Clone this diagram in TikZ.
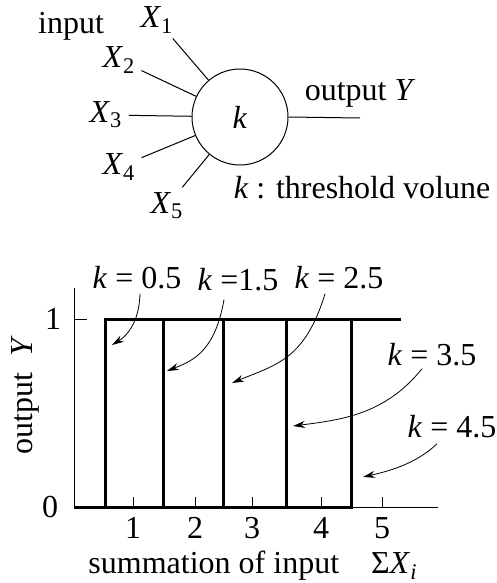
\documentclass[tikz,border=0pt]{standalone}
\usepackage{fontspec}
\setmainfont{Liberation Serif}
\usetikzlibrary{arrows.meta,positioning}
\tikzset{
  lbl/.style={font=\fontsize{16}{19}\selectfont,inner sep=1pt},
  neuron/.style={circle,draw,line width=0.5pt,minimum size=48pt,
                 inner sep=0pt,font=\fontsize{16}{19}\selectfont},
  wire/.style={line width=0.5pt},
  axis/.style={line width=0.5pt},
  stepline/.style={line width=1.5pt,line join=miter},
  pointer/.style={-{Stealth[length=6pt,width=3.5pt]},line width=0.4pt},
}

\begin{document}
\begin{tikzpicture}[x=0.5pt,y=-0.5pt]
\useasboundingbox (0,0) rectangle (497,583);

% threshold unit
\node[neuron] (k) at (240,117) {\textit{k}};
\node[lbl] (in) at (71,26) {input};
\foreach \n/\px/\py in {1/157/20,2/119/60,3/106/115,4/119/167,5/167/206}{
  \node[lbl] (x\n) at (\px,\py) {\textit{X}\textsubscript{\n}};
  \draw[wire,shorten <=2pt] (x\n) -- (k);
}
\coordinate (yend) at (360,118);
\draw[wire] (k.east) -- (yend);
\node[lbl] (outY) at (360,93) {output \textit{Y}};
\node[lbl] (thr) at (362,188) {\textit{k} : threshold volune};

% response curves
\coordinate (o) at (74,507);
\coordinate (ytop) at (74,288);
\coordinate (xend) at (438,507);
\draw[axis] (ytop) -- (o) -- (xend);
\draw[axis] (74,319) -- (87,319);
\node[lbl] (one) at (53,319) {1};
\node[lbl] (zero) at (50,507) {0};
\foreach \i/\px in {1/133,2/195,3/252,4/321,5/382}{
  \draw[axis] (\px,507) -- (\px,497);
  \node[lbl] (t\i) at (\px,528) {\i};
}
\foreach \px in {105,163,223,286,351}
  \draw[stepline] (o) -- (\px,507) -- (\px,319) -- (401,319);

\node[lbl,rotate=90] (ylab) at (25,395) {output\ \ \textit{Y}};
\node[lbl] (xlab) at (253,566) {summation of input\quad Σ\textit{X}\textsubscript{\textit{i}}};

\node[lbl] (k05) at (137,278) {\textit{k} = 0.5};
\node[lbl] (k15) at (238,280) {\textit{k} =1.5};
\node[lbl] (k25) at (339,278) {\textit{k} = 2.5};
\node[lbl] (k35) at (432,355) {\textit{k} = 3.5};
\node[lbl] (k45) at (452,427) {\textit{k} = 4.5};

\coordinate (a05) at (112,345);
\coordinate (a15) at (167,371);
\coordinate (a25) at (232,383);
\coordinate (a35) at (293,426);
\coordinate (a45) at (363,477);
\draw[pointer] ([xshift=1.5pt,yshift=-1pt]k05.south) .. controls (139,325) and (125,337) .. (a05);
\draw[pointer] ([xshift=-7pt,yshift=-3pt]k15.south) .. controls (215,350) and (195,360) .. (a15);
\draw[pointer] ([xshift=-7pt,yshift=-1pt]k25.south) .. controls (305,360) and (275,365) .. (a25);
\draw[pointer] ([xshift=-5pt,yshift=0pt]k35.south) .. controls (385,415) and (340,420) .. (a35);
\draw[pointer] ([xshift=-7.5pt,yshift=-1.5pt]k45.south) .. controls (415,465) and (385,472) .. (a45);
\end{tikzpicture}
\end{document}
